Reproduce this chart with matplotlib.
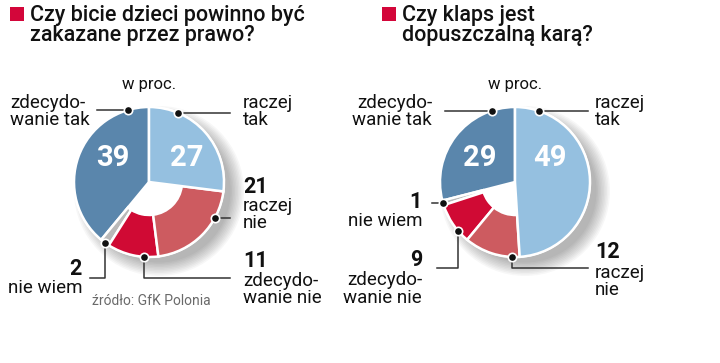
import numpy as np
import matplotlib.pyplot as plt
from matplotlib.patches import Rectangle, Circle

plt.rcParams['font.family'] = ['Roboto', 'DejaVu Sans']

# ── DATA ─────────────────────────────────────────────────────────────
categories = ['zdecydowanie tak', 'nie wiem', 'zdecydowanie nie', 'raczej nie', 'raczej tak']
q1_title = ['Czy bicie dzieci powinno być', 'zakazane przez prawo?']
q1_values = [39, 2, 11, 21, 27]
q2_title = ['Czy klaps jest', 'dopuszczalną karą?']
q2_values = [29, 1, 9, 12, 49]
unit_label = 'w proc.'
source = 'źródło: GfK Polonia'

COLORS = ['#5a86ac', '#b9b9b9', '#d00a34', '#cd5b60', '#95c0e0']
RING = [False, True, True, True, False]   # red + grey slices drawn as ring
RED_SQ = '#d3063a'
LINE = '#333333'

W, H = 720, 363
R = 75

fig = plt.figure(figsize=(W / 100, H / 100), dpi=100)
ax = fig.add_axes([0, 0, 1, 1])


def Y(y):
    return H - y


def pie(cx, cy, values):
    # soft shadow lower right
    for k in range(10):
        ax.add_patch(Circle((cx + 10, Y(cy + 9)), R + 10 - k * 1.5,
                            color='#000000', alpha=0.03, lw=0, zorder=1))
    ax.add_patch(Circle((cx, Y(cy)), R + 1, color='white', lw=0, zorder=2))
    wedges, _ = ax.pie(values, colors=COLORS, startangle=90, counterclock=True,
                       radius=R, center=(cx, Y(cy)),
                       wedgeprops=dict(edgecolor='white', linewidth=1.8))
    for w, ring in zip(wedges, RING):
        w.set_zorder(3)
        if ring:
            w.set_width(R * 0.56)


def dot(cx, cy, ang):
    a = np.radians(ang)
    x, y = cx + R * np.cos(a), Y(cy) + R * np.sin(a)
    ax.plot(x, y, 'o', color='#111111', ms=6, mec='white', mew=1.2, zorder=6)
    return x, y


def leader(pts):
    ax.plot([p[0] for p in pts], [p[1] for p in pts], color=LINE, lw=1.1, zorder=5)


def txt(x, y, s, size=13.5, weight='normal', ha='left', color='#111111'):
    ax.text(x, Y(y), s, fontsize=size, fontweight=weight, ha=ha, va='baseline',
            color=color, zorder=7)


def title(x, lines):
    ax.add_patch(Rectangle((x, Y(21)), 14, 14, color=RED_SQ, lw=0))
    txt(x + 20, 21, lines[0], size=15.5, weight='medium')
    txt(x + 20, 41, lines[1], size=15.5, weight='medium')


# ── LEFT: Czy bicie dzieci ... ───────────────────────────────────────
cx, cy = 149, 182
title(10, q1_title)
pie(cx, cy, q1_values)
txt(cx, 89, unit_label, size=12, ha='center')
ax.text(113, Y(158), str(q1_values[0]), fontsize=21, fontweight='bold',
        color='white', ha='center', va='center', zorder=7)
ax.text(187, Y(158), str(q1_values[4]), fontsize=21, fontweight='bold',
        color='white', ha='center', va='center', zorder=7)

x, y = dot(cx, cy, 106)
leader([(97, y), (x, y)])
txt(10, 108, 'zdecydo-')
txt(10, 125, 'wanie tak')

x, y = dot(cx, cy, 67)
leader([(x, y), (230, y)])
txt(243, 108, 'raczej')
txt(243, 125, 'tak')

x, y = dot(cx, cy, -29)
leader([(x, y), (230, y)])
txt(243, 193, str(q1_values[3]), size=15.5, weight='bold')
txt(243, 211, 'raczej')
txt(243, 228, 'nie')

x, y = dot(cx, cy, -94)
leader([(x, y), (x, Y(278)), (230, Y(278))])
txt(243, 267, str(q1_values[2]), size=15.5, weight='bold')
txt(243, 286, 'zdecydo-')
txt(243, 303, 'wanie nie')

x, y = dot(cx, cy, -126)
leader([(x, y), (x, Y(278)), (90, Y(278))])
txt(82, 275, str(q1_values[1]), size=15.5, weight='bold', ha='right')
txt(82, 293, 'nie wiem', ha='right')

txt(92, 305, source, size=10, color='#6a6a6a')

# ── RIGHT: Czy klaps ... ────────────────────────────────────────────
cx, cy = 515, 182
title(382, q2_title)
pie(cx, cy, q2_values)
txt(cx, 89, unit_label, size=12, ha='center')
ax.text(480, Y(158), str(q2_values[0]), fontsize=21, fontweight='bold',
        color='white', ha='center', va='center', zorder=7)
ax.text(550, Y(158), str(q2_values[4]), fontsize=21, fontweight='bold',
        color='white', ha='center', va='center', zorder=7)

x, y = dot(cx, cy, 108)
leader([(445, y), (x, y)])
txt(432, 108, 'zdecydo-', ha='right')
txt(432, 125, 'wanie tak', ha='right')

x, y = dot(cx, cy, 71)
leader([(x, y), (588, y)])
txt(595, 108, 'raczej')
txt(595, 125, 'tak')

x, y = dot(cx, cy, -164)
leader([(x, y), (432, y)])
txt(422, 208, str(q2_values[1]), size=15.5, weight='bold', ha='right')
txt(422, 226, 'nie wiem', ha='right')

x, y = dot(cx, cy, -139)
leader([(x, y), (x, Y(268)), (437, Y(268))])
txt(422, 266, str(q2_values[2]), size=15.5, weight='bold', ha='right')
txt(422, 285, 'zdecydo-', ha='right')
txt(422, 303, 'wanie nie', ha='right')

x, y = dot(cx, cy, -92)
leader([(x, y), (x, Y(268)), (588, Y(268))])
txt(595, 258, str(q2_values[3]), size=15.5, weight='bold')
txt(595, 278, 'raczej')
txt(595, 295, 'nie')

ax.set_xlim(0, W)
ax.set_ylim(0, H)
ax.set_aspect('auto')
ax.axis('off')

plt.savefig('out.png', dpi=100, facecolor='white')
